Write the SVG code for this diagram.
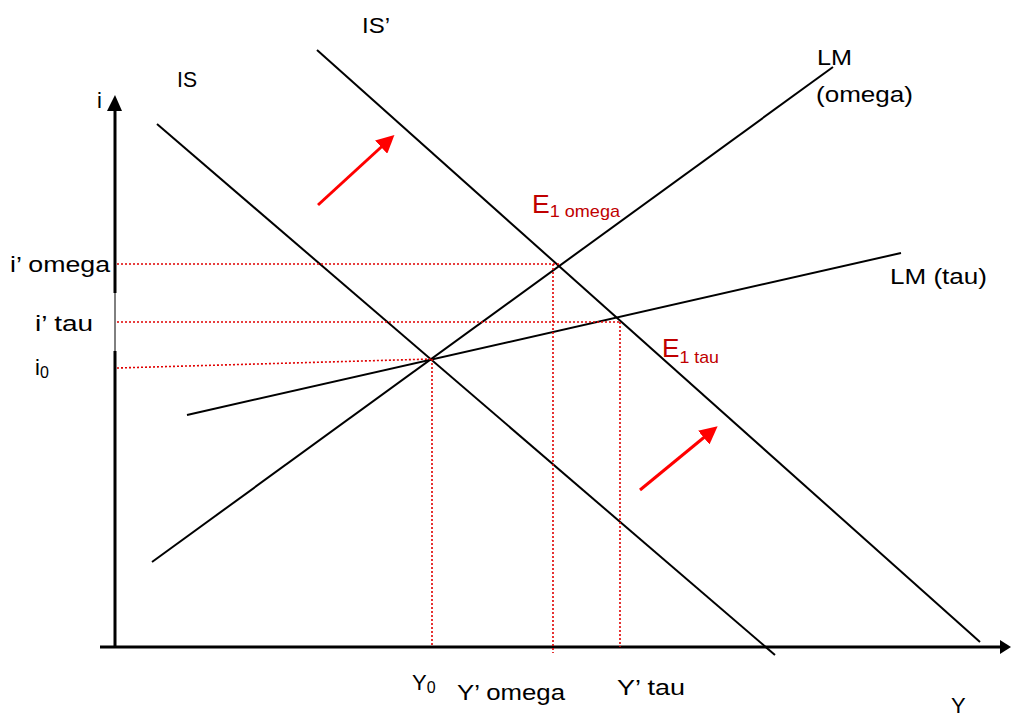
<svg xmlns="http://www.w3.org/2000/svg" width="1011" height="717" viewBox="0 0 1011 717">
<style>
text{font-family:"Liberation Sans",Arial,sans-serif;font-size:22px;fill:#000}
.red{fill:#c00000;font-size:25px}
.sub{font-size:16px}
.red .sub{font-size:17px}
.curve{stroke:#000;stroke-width:2;fill:none}
.dot{stroke:#e00000;stroke-width:1.6;stroke-dasharray:2 2;fill:none}
.arr{stroke:#ff0000;stroke-width:3;fill:none}
</style>
<defs>
<marker id="ra" markerWidth="6" markerHeight="6" refX="4" refY="3" orient="auto" markerUnits="strokeWidth"><path d="M0,0 L6,3 L0,6 z" fill="#ff0000"/></marker>
</defs>
<rect width="1011" height="717" fill="#fff"/>
<g id="axes">
<line x1="115" y1="108" x2="115" y2="293" stroke="#000" stroke-width="3"/>
<line x1="115" y1="293" x2="115" y2="351" stroke="#000" stroke-width="1"/>
<line x1="115" y1="351" x2="115" y2="648" stroke="#000" stroke-width="3"/>
<path d="M107,111 L115,95 L122,111 z" fill="#000"/>
<line x1="100" y1="647" x2="1000" y2="647" stroke="#000" stroke-width="3"/>
<path d="M1000,640 L1011,647 L1000,654 z" fill="#000"/>
</g>
<g id="connectors">
<line class="curve" x1="157" y1="124" x2="775" y2="655"/>
<line class="curve" x1="317" y1="50" x2="980" y2="642"/>
<line class="curve" x1="152" y1="562" x2="833" y2="67"/>
<line class="curve" x1="187" y1="415" x2="901" y2="253"/>
<line class="dot" x1="117" y1="264" x2="560" y2="264"/>
<line class="dot" x1="117" y1="322" x2="620" y2="322"/>
<line class="dot" x1="117" y1="368" x2="432" y2="359"/>
<line class="dot" x1="432" y1="359" x2="432" y2="647"/>
<line class="dot" x1="553" y1="264" x2="553" y2="653"/>
<line class="dot" x1="620" y1="322" x2="620" y2="647"/>
<line class="arr" x1="318" y1="205" x2="390" y2="139" marker-end="url(#ra)"/>
<line class="arr" x1="640" y1="490" x2="713" y2="430" marker-end="url(#ra)"/>
</g>
<g id="labels">
<text x="362" y="33" textLength="28" lengthAdjust="spacingAndGlyphs">IS’</text>
<text x="177" y="87" textLength="20" lengthAdjust="spacingAndGlyphs">IS</text>
<text x="97" y="108">i</text>
<text x="817" y="65" textLength="35" lengthAdjust="spacingAndGlyphs">LM</text>
<text x="816" y="102" textLength="97" lengthAdjust="spacingAndGlyphs">(omega)</text>
<text x="890" y="284" textLength="97" lengthAdjust="spacingAndGlyphs">LM (tau)</text>
<text class="red" x="532" y="213" textLength="88" lengthAdjust="spacingAndGlyphs">E<tspan class="sub" dy="4">1 omega</tspan></text>
<text class="red" x="662" y="357" textLength="57" lengthAdjust="spacingAndGlyphs">E<tspan class="sub" dy="6">1 tau</tspan></text>
<text x="10" y="272" textLength="100" lengthAdjust="spacingAndGlyphs">i’ omega</text>
<text x="35" y="331" textLength="58" lengthAdjust="spacingAndGlyphs">i’ tau</text>
<text x="35" y="375">i<tspan class="sub" dy="3">0</tspan></text>
<text x="412" y="690">Y<tspan class="sub" dy="3">0</tspan></text>
<text x="457" y="700" textLength="108" lengthAdjust="spacingAndGlyphs">Y’ omega</text>
<text x="617" y="695" textLength="68" lengthAdjust="spacingAndGlyphs">Y’ tau</text>
<text x="951" y="713">Y</text>
</g>
</svg>
